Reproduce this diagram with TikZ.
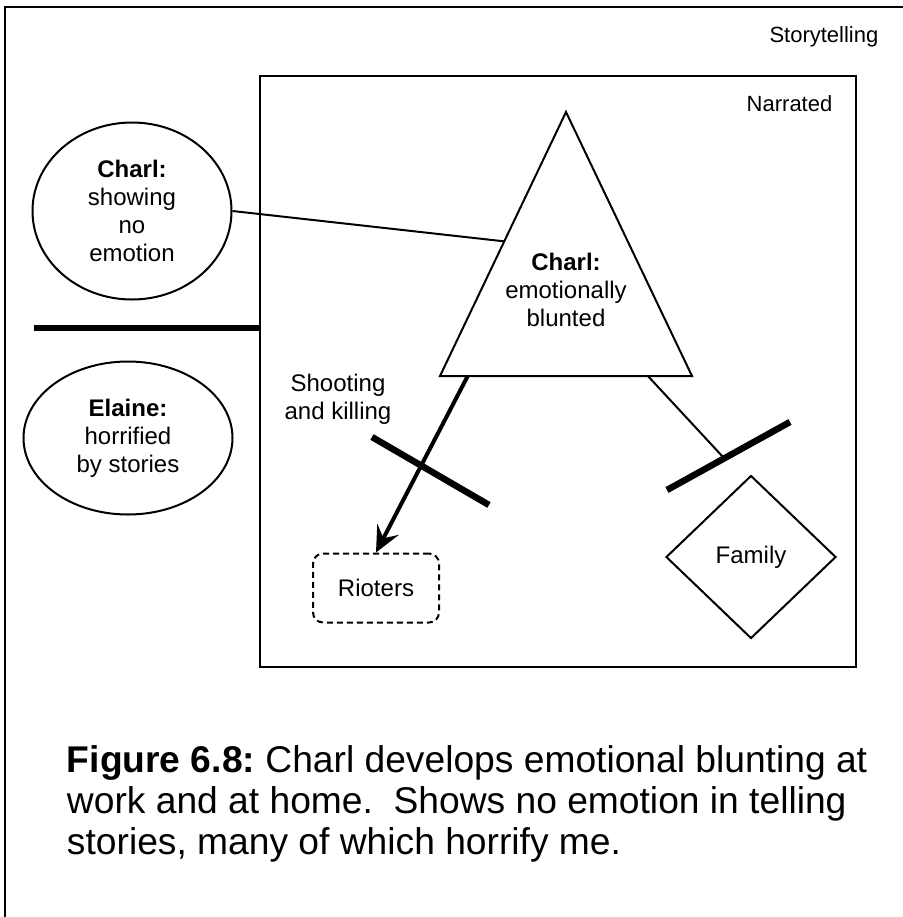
\documentclass[tikz,border=0pt]{standalone}
\usepackage{fontspec}
\setmainfont{Liberation Sans}
\usetikzlibrary{arrows.meta}
\usetikzlibrary{shapes.geometric}
\usetikzlibrary{calc}
\frenchspacing

\begin{document}
\begin{tikzpicture}[x=0.5pt,y=-0.5pt,line width=1pt,
    every node/.style={font=\fontsize{12}{14}\selectfont},
    bubble/.style={draw,ellipse,inner sep=0pt,align=center},
    crossbar/.style={line width=3.25pt}]
\useasboundingbox (0,0) rectangle (903,917);
%% outer frame (runs off the page on the right and at the bottom)
\draw (5,7) rectangle (930,940);
\node[anchor=base east,font=\fontsize{11}{13}\selectfont] (story) at (886,42) {Storytelling};
%% narrated box
\draw (260,76) rectangle (856,667);
\node[anchor=base east,font=\fontsize{11}{13}\selectfont] (narr) at (840,111) {Narrated};
%% triangle
\coordinate (apex) at (566,112);
\coordinate (baseL) at (440,376);
\coordinate (baseR) at (692,376);
\draw (apex) -- (baseL) -- (baseR) -- cycle;
\node[align=center] (blunted) at (566,290) {\textbf{Charl:}\\emotionally\\blunted};
%% left side
\node[bubble,minimum width=99.5pt,minimum height=88.5pt] (showing) at (132,211) {\textbf{Charl:}\\showing\\no\\emotion};
\node[bubble,minimum width=104.5pt,minimum height=76.5pt] (horrified) at (128,438) {\textbf{Elaine:}\\horrified\\by stories};
\draw[line width=3.25pt] (34,328) -- (260,328);
\draw (showing.east) -- ($(apex)!0.49!(baseL)$);
%% rioters
\node[draw,dashed,dash pattern=on 3pt off 2pt,rounded corners=5pt,minimum width=63pt,minimum height=34.5pt] (rioters) at (376,588) {Rioters};
\node[align=center] (shoot) at (338,399) {Shooting\\and killing};
\draw[line width=2pt,-{Stealth[length=13pt,width=12pt,inset=5pt]}] ($(baseL)!0.11!(baseR)$) -- (rioters.north);
\draw[crossbar] (372,437) -- (489,505);
%% family
\node[draw,diamond,inner sep=0pt,minimum width=85pt,minimum height=81.5pt] (family) at (751,557) {Family};
\coordinate (famcut) at (723,457);
\draw ($(baseL)!0.825!(baseR)$) -- (famcut);
\draw[crossbar] (667,490) -- (790,422);
%% caption
\node[anchor=north west,inner sep=0pt,align=left,font=\fontsize{18.6}{20.5}\selectfont] (caption) at (66,745)
  {\textbf{Figure 6.8:} Charl develops emotional blunting at\\work and at home.\ \ Shows no emotion in telling\\stories, many of which horrify me.};
\end{tikzpicture}
\end{document}
